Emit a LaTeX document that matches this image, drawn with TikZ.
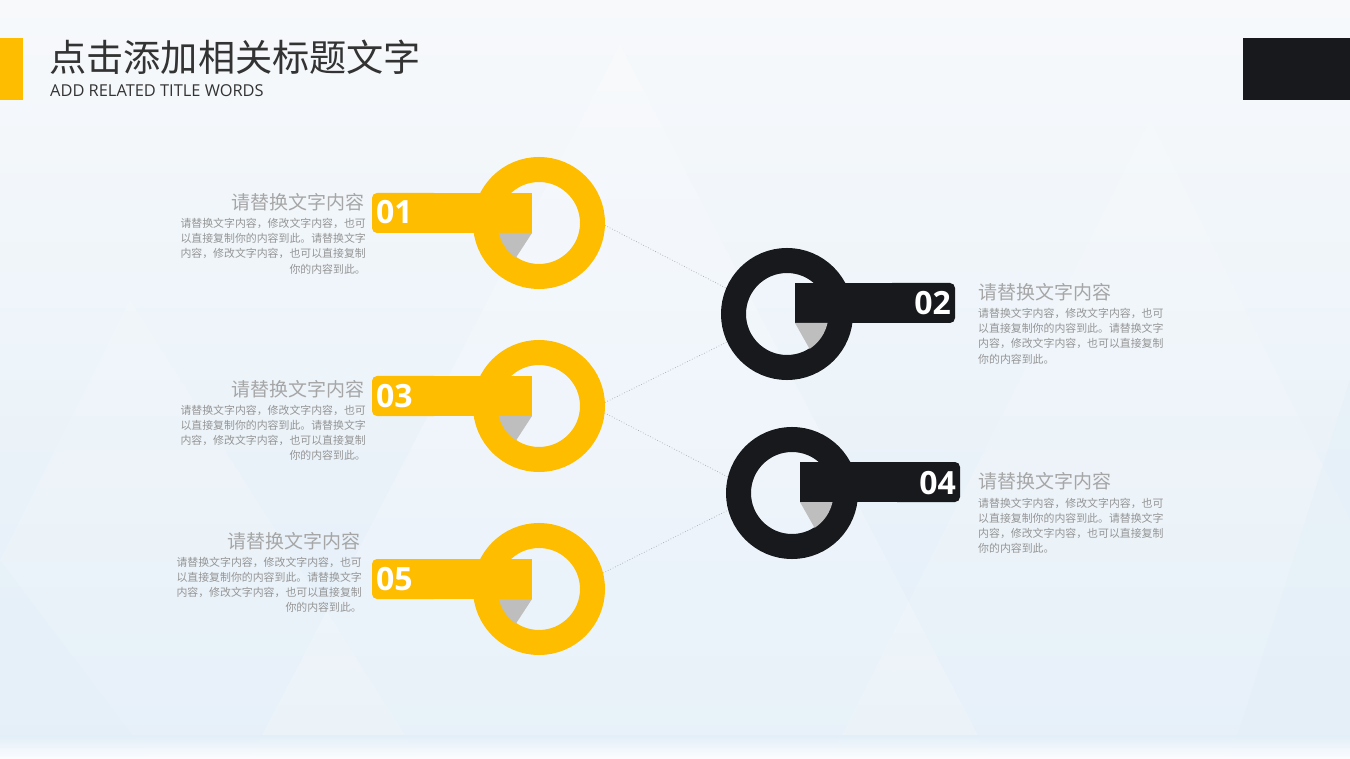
\documentclass[tikz,border=0pt]{standalone}
\usepackage{fontspec}
\setmainfont{Open Sans}
\newfontfamily\cjk{Noto Sans CJK SC}
\definecolor{ylw}{HTML}{FFBD00}
\definecolor{blk}{HTML}{18191D}
\definecolor{wedgegray}{HTML}{BEBEBE}
\definecolor{headgray}{HTML}{A6A6A6}
\definecolor{bodygray}{HTML}{959595}
\definecolor{titlegray}{HTML}{333333}
\definecolor{bgtop}{HTML}{F7F9FB}
\definecolor{bgbot}{HTML}{E2EEF8}
\definecolor{linegray}{HTML}{A8ADB2}
\tikzset{
  ringY/.style={circle, draw=ylw, line width=25pt, minimum size=107pt, inner sep=0pt},
  ringB/.style={circle, draw=blk, line width=25pt, minimum size=107pt, inner sep=0pt},
  num/.style={font=\bfseries\fontsize{32}{32}\selectfont, text=white, inner sep=0pt},
  head/.style={font=\cjk\fontsize{19}{19}\selectfont, text=headgray, inner sep=0pt},
  bodytxt/.style={font=\cjk\fontsize{10.9}{10.9}\selectfont, text=bodygray, inner sep=0pt},
  link/.style={draw=linegray, line width=0.7pt, dotted},
}
\newcommand{\blockL}[4]{% name, right x, heading center y, first body center y
  \node[head, anchor=base east] (#1h) at (#2,#3+7) {请替换文字内容};
  \node[bodytxt, anchor=base east] (#1a) at (#2+1,#4+4) {请替换文字内容，修改文字内容，也可};
  \node[bodytxt, anchor=base east] (#1b) at (#2+1,#4+19) {以直接复制你的内容到此。请替换文字};
  \node[bodytxt, anchor=base east] (#1c) at (#2+1,#4+34) {内容，修改文字内容，也可以直接复制};
  \node[bodytxt, anchor=base east] (#1d) at (#2+1,#4+49.5) {你的内容到此。};
}
\newcommand{\blockR}[4]{% name, left x, heading center y, first body center y
  \node[head, anchor=base west] (#1h) at (#2,#3+7) {请替换文字内容};
  \node[bodytxt, anchor=base west] (#1a) at (#2,#4+4) {请替换文字内容，修改文字内容，也可};
  \node[bodytxt, anchor=base west] (#1b) at (#2,#4+19) {以直接复制你的内容到此。请替换文字};
  \node[bodytxt, anchor=base west] (#1c) at (#2,#4+34) {内容，修改文字内容，也可以直接复制};
  \node[bodytxt, anchor=base west] (#1d) at (#2,#4+49.5) {你的内容到此。};
}
\newcommand{\barL}[2]{% cx, cy
  \fill[ylw, rounded corners=5pt] (#1-167,#2-30) rectangle (#1-100,#2+10);
  \fill[ylw] (#1-130,#2-30) rectangle (#1-7,#2+10);
  \begin{scope}
    \clip (#1,#2) circle[radius=41.5];
    \fill[wedgegray] (#1-7,#2+10) -- (#1-37,#2+56) -- (#1-60,#2+56) -- (#1-60,#2+10) -- cycle;
  \end{scope}
}
\newcommand{\barR}[2]{% cx, cy
  \fill[blk, rounded corners=5pt] (#1+100,#2-31) rectangle (#1+168,#2+9);
  \fill[blk] (#1+8,#2-31) rectangle (#1+130,#2+9);
  \begin{scope}
    \clip (#1,#2) circle[radius=41.5];
    \fill[wedgegray] (#1+8,#2+9) -- (#1+34,#2+55) -- (#1+60,#2+55) -- (#1+60,#2+9) -- cycle;
  \end{scope}
}
\begin{document}
\begin{tikzpicture}[x=1pt,y=-1pt]
\useasboundingbox (0,0) rectangle (1350,759);
% background
\shade[top color=bgtop, bottom color=bgbot] (0,0) rectangle (1350,759);
\fill[white, opacity=0.2] (620,45) -- (250,759) -- (990,759) -- cycle;
\fill[white, opacity=0.15] (1150,120) -- (830,759) -- (1350,759) -- (1350,520) -- cycle;
\fill[white, opacity=0.15] (130,300) -- (0,560) -- (0,759) -- (420,759) -- cycle;
\fill[bgbot, opacity=0.3] (0,560) -- (0,759) -- (150,759) -- cycle;
\fill[bgbot, opacity=0.4] (1350,380) -- (1350,759) -- (1230,759) -- cycle;
\shade[top color=bgbot, bottom color=white, opacity=0.9] (0,735) rectangle (1350,759);
% title
\fill[ylw] (0,38) rectangle (23,100);
\fill[blk] (1243,38) rectangle (1350,100);
\node[anchor=base west, inner sep=0pt, text=titlegray, font=\cjk\fontsize{37.2}{37.2}\selectfont] (title) at (49,72) {点击添加相关标题文字};
\node[anchor=base west, inner sep=0pt, text=titlegray, font=\fontsize{16.4}{16.4}\selectfont] (subtitle) at (50,96.5) {ADD RELATED TITLE WORDS};
% rings
\node[ringY] (r1) at (539,223) {};
\node[ringY] (r3) at (539,406) {};
\node[ringY] (r5) at (539,589) {};
\node[ringB] (r2) at (787,314) {};
\node[ringB] (r4) at (792,493) {};
% connectors
\draw[link] (r1.-2) -- (r2.157);
\draw[link] (r3.3) -- (r2.205);
\draw[link] (r3.-6) -- (r4.166);
\draw[link] (r5.14) -- (r4.195);
% bars
\barL{539}{223}
\barL{539}{406}
\barL{539}{589}
\barR{787}{314}
\barR{792}{493}
\node[num, anchor=west] (n1) at (376,212.5) {01};
\node[num, anchor=west] (n3) at (376,396) {03};
\node[num, anchor=west] (n5) at (376,579) {05};
\node[num, anchor=east] (n2) at (951,303) {02};
\node[num, anchor=east] (n4) at (956,483) {04};
% texts
\blockL{t1}{365}{203}{224}
\blockL{t3}{365}{389}{410}
\blockL{t5}{361}{541}{562}
\blockR{t2}{978}{293}{314}
\blockR{t4}{978}{481}{503}
\end{tikzpicture}
\end{document}
